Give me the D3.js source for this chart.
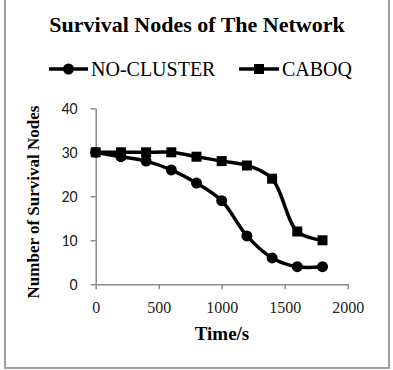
<script src="https://cdnjs.cloudflare.com/ajax/libs/d3/7.8.5/d3.min.js"></script>
<style>
  body { margin: 0; background: #fff; }
</style>
<svg id="chart"></svg>
<script>
// data
const times = [0, 200, 400, 600, 800, 1000, 1200, 1400, 1600, 1800];
const noCluster = [30, 29, 28, 26, 23, 19, 11, 6, 4, 4];
const caboq = [30, 30, 30, 30, 29, 28, 27, 24, 12, 10];
const xTicks = [0, 500, 1000, 1500, 2000];
const yTicks = [0, 10, 20, 30, 40];

const width = 393, height = 370;
const serif = "'Liberation Serif', 'Times New Roman', serif";
const sans = "Carlito, 'Liberation Sans', 'DejaVu Sans', sans-serif";

const svg = d3.select("#chart")
    .attr("width", width)
    .attr("height", height);

// outer frame
svg.append("rect")
    .attr("x", 5).attr("y", -1)
    .attr("width", 384).attr("height", 369)
    .attr("fill", "none")
    .attr("stroke", "#a0a0a0")
    .attr("stroke-width", 2);

const x = d3.scaleLinear().domain([0, 2000]).range([95.7, 347.7]);
const y = d3.scaleLinear().domain([0, 40]).range([284.3, 108.3]);

// axes
const gx = svg.append("g")
    .attr("transform", `translate(0,${y(0)})`)
    .call(d3.axisBottom(x).tickValues(xTicks).tickFormat(d3.format("d"))
        .tickSize(5).tickSizeOuter(0).tickPadding(12));
gx.selectAll("text")
    .attr("font-family", serif)
    .attr("font-size", 16)
    .attr("fill", "#222");

const gy = svg.append("g")
    .attr("transform", `translate(${x(0)},0)`)
    .call(d3.axisLeft(y).tickValues(yTicks).tickFormat(d3.format("d"))
        .tickSize(5).tickSizeOuter(0).tickPadding(13));
gy.selectAll("text")
    .attr("font-family", sans)
    .attr("font-size", 16)
    .attr("fill", "#222");

svg.selectAll(".domain, .tick line")
    .attr("stroke", "#8c8c8c")
    .attr("stroke-width", 1.5);

// series
const line = d3.line()
    .x((d, i) => x(times[i]))
    .y(d => y(d))
    .curve(d3.curveCatmullRom.alpha(0.5));

svg.append("path")
    .datum(noCluster)
    .attr("d", line)
    .attr("fill", "none")
    .attr("stroke", "#000")
    .attr("stroke-width", 3.5);

svg.append("path")
    .datum(caboq)
    .attr("d", line)
    .attr("fill", "none")
    .attr("stroke", "#000")
    .attr("stroke-width", 3.5);

svg.append("g").selectAll("circle")
    .data(noCluster)
    .join("circle")
    .attr("cx", (d, i) => x(times[i]))
    .attr("cy", d => y(d))
    .attr("r", 5.5)
    .attr("fill", "#000");

svg.append("g").selectAll("rect")
    .data(caboq)
    .join("rect")
    .attr("x", (d, i) => x(times[i]) - 5)
    .attr("y", d => y(d) - 5)
    .attr("width", 10)
    .attr("height", 10)
    .attr("fill", "#000");

// title
svg.append("text")
    .attr("x", 197).attr("y", 32)
    .attr("text-anchor", "middle")
    .attr("font-family", serif)
    .attr("font-weight", "bold")
    .attr("font-size", 22)
    .text("Survival Nodes of The Network");

// legend
const legend = svg.append("g");
legend.append("line")
    .attr("x1", 49).attr("x2", 88).attr("y1", 69).attr("y2", 69)
    .attr("stroke", "#000").attr("stroke-width", 3.5);
legend.append("circle")
    .attr("cx", 68.5).attr("cy", 69).attr("r", 5.5);
legend.append("text")
    .attr("x", 91).attr("y", 76)
    .attr("font-family", serif).attr("font-size", 20)
    .text("NO-CLUSTER");

legend.append("line")
    .attr("x1", 239).attr("x2", 279).attr("y1", 69).attr("y2", 69)
    .attr("stroke", "#000").attr("stroke-width", 3.5);
legend.append("rect")
    .attr("x", 254).attr("y", 64).attr("width", 10).attr("height", 10);
legend.append("text")
    .attr("x", 282).attr("y", 76)
    .attr("font-family", serif).attr("font-size", 20)
    .text("CABOQ");

// axis titles
svg.append("text")
    .attr("x", 222).attr("y", 340)
    .attr("text-anchor", "middle")
    .attr("font-family", serif)
    .attr("font-weight", "bold")
    .attr("font-size", 19)
    .text("Time/s");

svg.append("text")
    .attr("transform", "translate(39,202) rotate(-90)")
    .attr("text-anchor", "middle")
    .attr("font-family", serif)
    .attr("font-weight", "bold")
    .attr("font-size", 17)
    .text("Number of Survival Nodes");
</script>
